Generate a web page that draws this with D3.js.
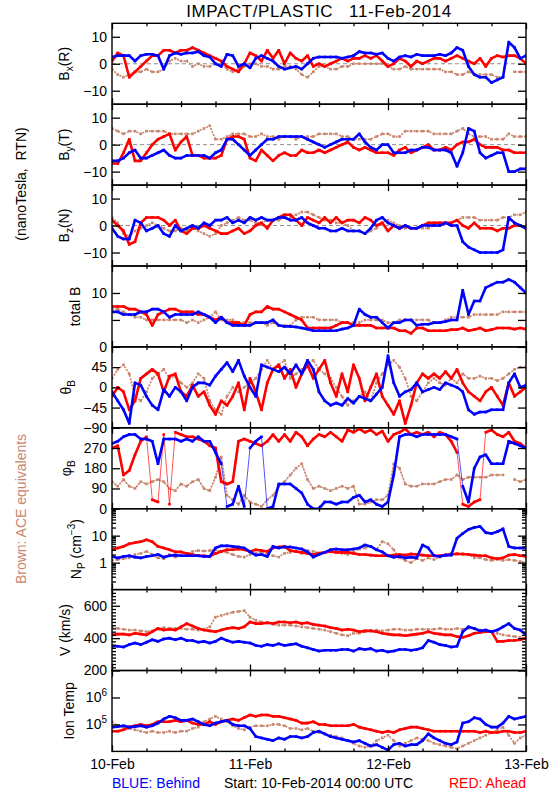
<!DOCTYPE html>
<html><head><meta charset="utf-8">
<script src="https://cdn.jsdelivr.net/npm/d3@7"></script>
<style>
body{margin:0;background:#fff}
svg{display:block;font-family:"Liberation Sans",Arial,sans-serif}
</style>
</head><body>
<svg id="c" width="550" height="800"></svg>
<script>
// ---------- time grid (hours since 10-Feb-2014 00:00 UTC) ----------
const hours = d3.range(0, 73);
const dayTicks = [0, 24, 48, 72];
const dayLabels = ["10-Feb", "11-Feb", "12-Feb", "13-Feb"];
const minorHourTicks = [6, 12, 18, 30, 36, 42, 54, 60, 66];

// ---------- Bx (R) ----------
const bxBlue = [2.5,3,3,3,1,3,3.5,3.5,3,-2, 3,4,3.5,4,4,4.5,3,2.5,0,-1, 3.5,3,-1,0,-1.5,2,3,2,1,-1, -2,-1.5,-1,-2,0,2,2.5,2.5,2.5,2.5, 2,2.5,3,4.5,4,4,3.5,4,2,1, 2.5,3,2.5,3.5,3,3,3,3.5,3,4, 6,5,-1,-4,-5,-5,-7,-6,-5,8, 6,2,3];
const bxRed = [1,4,3,-5,-3,-1,1,3,3,5, 5,4,5,5,6,5,4,3,2,1, -1,-2,-3,0,4,3,1,5,2,5, 0,4,2,1,3,-1,0,-1,0,1, 2,1,2,2,3,2,3,1,-1,0, 2,1,-1,1,0,1,2,2,1,2, 3,2,1,0,2,-1,2,3,2.5,3, 3,2,0];
const bxBrown = [-2,-4,-5,-4,-3,-3,-2,-3,-3,-2, 1,2,1,1,-1,0,-1,-1,0,0, -2,-3,-2,-1,0,0,-1,-1,-2,-2, -1,-1,-2,-4,-5,-3,-1,-1,-2,-2, -1,-1,0,0,0,0,0,0,-1,-2, -2,-1,-2,-2,-2,-2,-2,-2,-3,-3, -4,-4,-3,-4,-4,-4,-4,-5,-5,null, -3,-3,-3];

// ---------- By (T) ----------
const byBlue = [-6,-6,-5,-3,-2,-5,-5,-4,-3,-2, -4,-5,-5,-4,-4,-4,-4,-5,-3,-2, 2,2,0,-2,-4,-2,0,2,2,3, 3,3,3,3,2,1,0,-1,0,1, 2,2,2,4,1,-1,-2,0,0,-3, -3,-3,-2,-2,-1,-1,-2,-2,-2,-3, -8,-3,6,5,-3,-5,-4,-3,-3,-10, -10,-9,-9];
const byRed = [-7,-7,-3,2,-6,-6,-3,0,2,3, 4,-2,1,3,-4,-4,-5,-5,-5,-4, 2,3,3,2,-5,-6,-2,-4,-6,-4, -3,-4,-4,-2,-3,-3,-2,-3,-2,-1, 0,1,-1,-2,-1,-2,-3,-3,-3,-4, -2,-1,-3,-2,-1,0,-2,-2,-1,-2, 0,1,1,2,0,-1,-1,-1,-2,-2, -3,-3,-3];
const byBrown = [6,5,4,5,5,4,5,5,5,5, 4,4,4,4,4,5,6,7,2,2, 3,4,4,4,3,3,4,3,3,2, 3,3,2,3,3,3,4,4,4,4, 3,3,2,2,2,2,3,4,4,3, 3,5,5,5,5,5,4,4,4,4, 5,6,4,3,3,3,2,2,2,4, 3,3,3];

// ---------- Bz (N) ----------
const bzBlue = [-1,-4,-5,-5,2,1,-2,-1,0,-3, -4,0,-2,-1,0,-1,1,0,2,2, 3,1,2,1,3,2,3,2,2,3, 3,2,2,3,1,0,-1,-1,-2,-2, -1,-2,-2,-2,-3,-1,2,3,1,0, -1,0,-1,-1,0,0,0,0,1,0, 0,-6,-8,-9,-10,-10,-10,-10,-9,3, 1,0,-1];
const bzRed = [2,0,-2,-7,-6,1,3,3,3,2, 0,2,-2,-3,-1,-1,0,-1,-2,-3, -3,-2,-1,-3,-2,0,1,-1,2,3, 4,4,2,0,3,2,1,3,1,3, 1,2,2,1,3,2,0,1,-2,0, -1,0,-1,-1,0,1,1,1,1,1, 2,0,-1,1,-1,-1,-1,-2,-1,-1, 0,0,-1];
const bzBrown = [3,1,-3,-4,-2,-1,0,1,0,-1, -2,-2,-1,-2,-1,-2,-3,-4,-3,0, 1,2,3,2,2,1,1,2,2,2, 3,3,4,5,5,4,3,2,2,1, 1,0,-2,-2,-3,-2,-1,1,2,1, 0,-1,-1,-1,-1,-1,0,0,1,1, 2,3,3,3,2,2,2,2,3,3, 4,4,5];

// ---------- total B ----------
const btBlue = [6.5,6.5,6,6,6,6.5,6.5,7,7,6.5, 5.5,6,6,6,6,6.5,6,5.5,4.5,5.5, 4.5,4,4,4,4,4.5,4.5,4.5,5,4, 3.8,3.8,3.7,3.5,3.3,3,3,3,3,3, 3.3,3.5,4,7,6,5.5,5.5,4.5,3.5,4.5, 4.5,5,5,4,4.2,4.2,4.5,4.5,4.7,5, 5,10.5,6,8.5,8.5,11,11.5,12,12,12.5, 12,11,10];
const btRed = [7.5,7.5,7.5,7,7,6.5,6,4,6,6.5, 7,7,6.5,6.5,6.5,6,6,5.5,5,5.5, 4.5,4.5,4.5,4,6,6.5,6.5,7.5,7,7, 6.5,6,5.5,5,3.5,3.5,3.5,3.5,3.5,4, 4.5,4.5,4,4,4,4,3.5,3.5,3.5,3.5, 3,3,2.5,3.5,3.5,3,3,3,3,3.2, 3.2,3.5,3,3.2,3.5,3,3.2,3.5,3.5,3.5, 3.3,3.5,3.3];
const btBrown = [7,7,6.5,6,5.5,5.5,5,5,5,5, 5,5,5,4.5,5,4.5,5,5.5,6.5,5, 5,5,4.5,4.5,4.5,4.5,4.5,4,4.5,4, 4,4,5,5.5,5.5,5.5,5,5,5,5, 4.5,4.5,4.5,4.5,5,5,5,5,4.5,4.5, 5,5,5,5,5,5,4.5,4.5,5,5.5, 5.5,5.5,5.5,6,6,6,6,6,6.5,6.5, 6.5,6.5,6.5];

// ---------- theta_B ----------
const thBlue = [-10,-30,-50,-80,10,5,-20,-40,-50,-5, -20,0,-10,-30,0,10,10,5,25,40, 55,35,60,25,0,-20,50,45,40,35, 45,30,50,30,60,40,-10,-30,-40,-35, -40,-25,-35,-20,-25,-30,-15,0,70,10, -20,-10,-5,10,-10,-5,0,-5,10,5, 0,-10,-50,-60,-55,-55,-50,-50,-50,10, 30,0,5];
const thRed = [-20,0,-10,-50,-30,20,30,40,30,-10, 25,30,-10,-20,5,-20,-10,-40,-60,-30, -40,-20,10,-50,20,-10,-50,10,40,50, 20,40,0,30,50,20,40,60,10,-20, 30,-10,50,20,-30,0,30,-20,-40,-60, -30,-80,-40,10,30,20,30,20,35,20, 40,10,-10,-20,-30,-10,0,-20,-40,10, -20,-10,0];
const thBrown = [20,40,50,30,-20,-30,-10,20,30,40, 20,25,10,0,10,30,20,-30,-50,-60, -20,0,-10,0,10,20,40,60,40,50, 60,20,30,40,50,60,40,30,20,0, -20,-40,-30,-20,-10,-30,10,30,50,60, 45,20,-20,-30,-10,10,20,10,5,20, 10,30,20,20,25,20,20,15,20,30, 40,45,45];

// ---------- phi_B ----------
const phBlue = [290,300,320,330,330,310,310,300,200,310, 310,310,300,310,300,320,300,300,250,200, 10,20,100,10,270,300,320,0,10,110, 110,110,90,70,20,0,0,30,30,20, 30,30,50,60,30,40,20,10,30,150, 320,330,330,320,330,330,330,330,330,320, 310,100,30,180,230,240,200,200,200,300, 290,280,270];
const phRed = [270,280,150,170,240,300,320,40,30,330, 20,340,330,320,320,310,300,280,270,120, 110,120,300,310,300,290,280,300,330,300, 330,300,340,320,280,310,330,320,340,320, 300,350,340,355,340,350,330,345,300,330, 340,355,330,340,330,340,320,340,330,300, 250,20,10,30,40,340,350,330,320,340, 300,290,270];
const phBrown = [120,100,130,100,90,120,110,120,130,120, 90,80,110,100,120,130,90,80,140,230, 60,40,20,60,30,20,10,40,60,100, 120,150,180,200,130,90,100,90,80,90, 100,90,100,20,20,30,40,40,60,200, 180,110,100,100,110,110,110,120,130,130, 150,130,140,140,140,140,150,150,150,null, 130,120,130];

// ---------- Np (cm^-3) ----------
const npBlue = [1.7,1.5,1.7,1.8,1.6,1.5,1.7,1.8,2.0,1.6, 1.8,1.9,1.8,1.8,1.8,1.8,1.7,1.7,3.5,4.2, 4.2,4,3.8,3.5,2.5,1.9,2.0,1.7,4,3.5, 3.8,3.8,3.5,3.2,2.5,1.6,2.0,2.4,3,3.2, 3,3,3.2,3.5,4.5,4,3,2.5,1.8,1.6, 1.7,1.5,1.6,1.5,4.5,3.5,1.8,1.7,1.9,1.9, 8,12,17,20,22,13,12,14,18,4, 3.5,3.5,3.5];
const npRed = [3,3.5,4,5,5.5,6,7,6,4,3.5, 3,2.5,2.5,2.2,2,1.8,1.8,1.7,2.2,2.6, 3,3,3.2,3,2.6,3,2.8,2.6,3.5,3.8, 4,2.8,2.6,2.4,2.2,2.0,2.2,2.4,2.6,2.4, 2.4,2.4,2.2,2.0,2.0,1.9,1.8,1.8,1.8,1.9, 2.0,1.9,2.1,2.0,1.9,1.8,1.8,1.8,1.9,2.0, 2.1,2.1,2.0,1.9,1.8,1.8,1.5,1.4,1.5,1.9, 2.0,1.8,1.7];
const npBrown = [1.2,1.3,1.4,1.5,2,2.2,2.6,2.0,1.5,1.4, 2,1.6,1.8,2,2.6,2.8,2.7,2.8,3,2.6, 2.4,2.0,1.7,1.6,2.0,2.2,2.5,2.0,1.8,1.6, 2.2,2.4,2.6,2.2,2.8,2.6,2.3,2.4,2.5,2.6, 2.2,2.0,2.6,3.2,3.5,4,3,6,5,3, 1.5,1.2,1.0,1.4,1.2,1.5,1.3,1.6,2,2.2, 2.2,2.0,2.0,1.5,1.5,1.3,1.2,1.3,1.2,1.3, 1.2,1.1,1.0];

// ---------- V (km/s) ----------
const vBlue = [350,350,345,360,370,360,375,390,380,395, 400,390,400,385,385,375,380,370,380,400, 385,375,380,375,370,355,350,360,355,365, 355,360,365,350,340,330,320,325,325,325, 330,330,320,335,330,335,320,325,315,320, 330,330,325,330,340,385,375,360,355,345, 350,440,470,460,445,450,440,450,470,490, 460,450,420];
const vRed = [420,425,425,420,430,425,420,440,460,450, 455,450,470,490,475,460,450,445,440,450, 460,465,460,470,500,490,490,495,490,500, 500,495,500,490,495,485,480,475,465,460, 450,455,450,440,445,445,440,430,425,420, 420,415,420,425,430,440,430,425,420,420, 410,405,415,430,435,440,440,380,380,385, 385,390,400];
const vBrown = [470,460,455,450,450,445,440,445,455,465, 460,460,460,455,455,450,455,470,530,540, 550,560,565,570,530,510,500,495,485,480, 480,480,475,470,465,460,455,450,440,430, 420,415,430,430,440,445,450,445,450,455, 455,450,450,455,455,455,455,460,455,455, 460,455,460,460,450,440,440,430,420,415, 410,405,400];

// ---------- Ion Temp (log10 K) ----------
const tBlueLog = [4.9,4.92,4.95,4.9,4.92,4.95,4.9,4.95,5.05,5.2, 5.3,5.25,5.15,5.15,5.2,5.1,5.0,4.95,5.05,5.1, 5.15,5.0,4.95,4.95,4.85,4.55,4.5,4.45,4.4,4.5, 4.45,4.55,4.55,4.5,4.55,4.7,4.75,4.65,4.55,4.5, 4.45,4.4,4.35,4.4,4.3,4.2,4.25,4.15,4.05,4.25, 4.3,4.2,4.25,4.25,4.4,4.65,4.5,4.4,4.3,4.25, 4.35,5.05,5.1,5.25,5.2,5.0,4.9,4.9,5.05,5.3, 5.2,5.25,5.3];
const tRedLog = [4.75,4.75,4.8,4.9,4.95,5.0,4.95,5.0,5.1,5.1, 5.1,5.15,5.1,5.15,5.05,5.0,5.0,5.1,5.0,5.1, 5.15,5.2,5.15,5.25,5.35,5.3,5.35,5.35,5.3,5.3, 5.25,5.2,5.15,5.05,5.05,5.1,5.0,5.0,4.95,4.95, 4.95,4.95,5.0,4.9,4.85,4.8,4.75,4.7,4.75,4.7, 4.8,4.85,4.9,4.9,4.85,4.8,4.75,4.75,4.75,4.75, 4.75,4.75,4.75,4.75,4.7,4.75,4.7,4.7,4.75,4.75, 4.7,4.7,4.75];
const tBrownLog = [5.1,4.95,4.9,4.85,4.8,4.75,4.7,4.75,4.7,4.7, 4.75,4.7,4.75,4.75,4.85,4.9,5.1,5.2,5.3,5.2, 5.1,4.95,4.85,4.8,4.9,4.95,4.95,4.95,5.0,5.0, 4.95,4.85,4.85,4.8,4.85,4.75,4.7,4.65,4.6,4.55, 4.5,4.4,4.3,4.2,4.15,4.2,4.4,4.5,4.6,4.4, 4.2,4.3,4.4,4.5,4.45,4.4,4.3,4.25,4.2,4.15, 4.1,4.2,4.3,4.4,4.5,4.6,4.7,4.8,4.9,4.6, 4.3,4.5,4.6];
const toK = a => a.map(v => v == null ? null : Math.pow(10, v));

// ---------- layout ----------
const L = 112, R = 526, TOP = 23.3, PH = 80.9;
const COL = {blue: "#0000ff", red: "#ff0000", brown: "#c8866e"};
const FS = 14;
const svg = d3.select("#c");
const defs = svg.append("defs");
const x = d3.scaleLinear().domain([0, 72]).range([L, R]);

const minus = s => String(s).replace("-", "\u2212");

const panels = [
  {label: [["B"], ["x", "sub"], ["(R)"]], lx: 69, domain: [-15, 15], zero: true,
   major: [-10, 0, 10], labeled: [-10, 0, 10], blue: bxBlue, red: bxRed, brown: bxBrown},
  {label: [["B"], ["y", "sub"], ["(T)"]], lx: 69, domain: [-15, 15], zero: true,
   major: [-10, 0, 10], labeled: [-10, 0, 10], blue: byBlue, red: byRed, brown: byBrown},
  {label: [["B"], ["z", "sub"], ["(N)"]], lx: 69, domain: [-15, 15], zero: true,
   major: [-10, 0, 10], labeled: [-10, 0, 10], blue: bzBlue, red: bzRed, brown: bzBrown},
  {label: [["total B"]], lx: 80, domain: [0, 15],
   major: [0, 5, 10], labeled: [0, 10], blue: btBlue, red: btRed, brown: btBrown},
  {label: [["\u03b8"], ["B", "sub"]], lx: 71, domain: [-90, 90],
   major: [-90, -45, 0, 45], labeled: [-90, -45, 0, 45], blue: thBlue, red: thRed, brown: thBrown},
  {label: [["\u03c6"], ["B", "sub"]], lx: 71, domain: [0, 360], wrap: true,
   major: [0, 90, 180, 270], labeled: [0, 90, 180, 270], blue: phBlue, red: phRed, brown: phBrown},
  {label: [["N"], ["P", "sub"], [" (cm"], ["\u22123", "sup"], [")"]], lx: 81, domain: [0.1, 100], log: true,
   major: [1, 10], labeled: [1, 10],
   minor: [0.2,0.3,0.4,0.5,0.6,0.7,0.8,0.9,2,3,4,5,6,7,8,9,20,30,40,50,60,70,80,90],
   blue: npBlue, red: npRed, brown: npBrown},
  {label: [["V (km/s)"]], lx: 70, domain: [200, 700],
   major: [200, 400, 600], labeled: [200, 400, 600],
   minor: [220,240,260,280,300,320,340,360,380,420,440,460,480,500,520,540,560,580,620,640,660,680],
   blue: vBlue, red: vRed, brown: vBrown},
  {label: [["Ion Temp"]], lx: 74, domain: [1e4, 1e7], log: true,
   major: [1e5, 1e6], labeled: [1e5, 1e6], sup: true,
   blue: toK(tBlueLog), red: toK(tRedLog), brown: toK(tBrownLog)}
];

function addRich(textSel, parts) {
  let shift = 0;
  parts.forEach(([s, kind]) => {
    const t = textSel.append("tspan").text(s);
    let target = 0;
    if (kind === "sub") { t.attr("font-size", 10); target = 4; }
    else if (kind === "sup") { t.attr("font-size", 10); target = -6; }
    const dy = target - shift;
    if (dy !== 0) t.attr("dy", dy);
    shift = target;
  });
}

// pair each value with its hour; for angles, break the thick trace where it wraps past 0/360
function toPoints(vals, wrap) {
  const pts = [];
  hours.forEach((h, k) => {
    const v = vals[k];
    if (wrap && k > 0 && v != null && vals[k - 1] != null && Math.abs(v - vals[k - 1]) > 180) {
      pts.push([h - 0.5, null]);
    }
    pts.push([h, v == null ? null : v]);
  });
  return pts;
}

panels.forEach((p, i) => {
  const y0 = TOP + i * PH, y1 = y0 + PH;
  const y = (p.log ? d3.scaleLog() : d3.scaleLinear()).domain(p.domain).range([y1, y0]);
  const g = svg.append("g");
  const cid = "clip" + i;
  defs.append("clipPath").attr("id", cid).append("rect")
    .attr("x", L).attr("y", y0).attr("width", R - L).attr("height", PH);
  const dg = g.append("g").attr("clip-path", `url(#${cid})`);

  if (p.zero) {
    dg.append("line").attr("x1", L).attr("x2", R).attr("y1", y(0)).attr("y2", y(0))
      .attr("stroke", "#8c8c8c").attr("stroke-width", 1).attr("stroke-dasharray", "4,3");
  }
  const line = d3.line().defined(d => d[1] != null).x(d => x(d[0])).y(d => y(d[1]));
  [["brown", p.brown], ["red", p.red], ["blue", p.blue]].forEach(([c, vals]) => {
    if (p.wrap) {
      // thin streaks across the wrap, like the scattered samples in the original
      dg.append("path").datum(toPoints(vals, false))
        .attr("d", line).attr("fill", "none").attr("stroke", COL[c])
        .attr("stroke-width", 0.8).attr("opacity", c === "brown" ? 0.6 : 0.85);
    }
    const pts = toPoints(vals, p.wrap);
    const path = dg.append("path").datum(pts)
      .attr("d", line).attr("fill", "none").attr("stroke", COL[c])
      .attr("stroke-width", c === "brown" ? 1.7 : 2.6)
      .attr("stroke-linejoin", "round");
    if (c === "brown") path.attr("stroke-dasharray", "2,1.3");
    dg.append("g").selectAll("rect").data(pts.filter(d => d[1] != null)).join("rect")
      .attr("x", d => x(d[0]) - 1.3).attr("y", d => y(d[1]) - 1.3)
      .attr("width", 2.6).attr("height", 2.6).attr("fill", COL[c]);
  });

  // frame
  g.append("rect").attr("x", L).attr("y", y0).attr("width", R - L).attr("height", PH)
    .attr("fill", "none").attr("stroke", "#000").attr("stroke-width", 1.4);

  // y axes (ticks inward)
  const ya = g.append("g").attr("transform", `translate(${L},0)`)
    .call(d3.axisLeft(y).tickValues(p.major).tickSize(-8).tickPadding(5)
      .tickFormat(v => p.labeled.includes(v) ? (p.sup ? "" : minus(v)) : ""));
  g.append("g").attr("transform", `translate(${R},0)`)
    .call(d3.axisRight(y).tickValues(p.major).tickSize(-8).tickFormat(""));
  if (p.minor) {
    g.append("g").attr("transform", `translate(${L},0)`)
      .call(d3.axisLeft(y).tickValues(p.minor).tickSize(-4).tickFormat(""));
    g.append("g").attr("transform", `translate(${R},0)`)
      .call(d3.axisRight(y).tickValues(p.minor).tickSize(-4).tickFormat(""));
  }
  if (p.sup) {
    ya.selectAll(".tick text").each(function (v) {
      const t = d3.select(this);
      addRich(t, [["10"], [String(Math.round(Math.log10(v))), "sup"]]);
    });
  }
  // x ticks top & bottom
  g.append("g").attr("transform", `translate(0,${y1})`)
    .call(d3.axisBottom(x).tickValues(dayTicks).tickSize(-6).tickFormat(""));
  g.append("g").attr("transform", `translate(0,${y1})`)
    .call(d3.axisBottom(x).tickValues(minorHourTicks).tickSize(-3).tickFormat(""));
  g.append("g").attr("transform", `translate(0,${y0})`)
    .call(d3.axisTop(x).tickValues(dayTicks).tickSize(-6).tickFormat(""));
  g.append("g").attr("transform", `translate(0,${y0})`)
    .call(d3.axisTop(x).tickValues(minorHourTicks).tickSize(-3).tickFormat(""));

  if (i === panels.length - 1) {
    g.append("g").attr("transform", `translate(0,${y1})`)
      .call(d3.axisBottom(x).tickValues(dayTicks).tickSize(0).tickPadding(7.7)
        .tickFormat((d, k) => dayLabels[k]))
      .call(a => a.select(".domain").remove());
  }

  // y label
  const t = g.append("text")
    .attr("transform", `translate(${p.lx},${(y0 + y1) / 2}) rotate(-90)`)
    .attr("text-anchor", "middle").attr("font-size", FS).attr("fill", "#000");
  addRich(t, p.label);
});

svg.selectAll(".domain").remove();
svg.selectAll(".tick line").attr("stroke", "#000").attr("stroke-width", 1.3);
svg.selectAll(".tick text").attr("font-size", FS).attr("fill", "#000")
  .attr("font-family", "'Liberation Sans', Arial, sans-serif");

// title
svg.append("text").attr("x", (L + R) / 2).attr("y", 17).attr("text-anchor", "middle")
  .attr("font-size", 17).attr("letter-spacing", 0.6).style("white-space", "pre")
  .text("IMPACT/PLASTIC   11-Feb-2014");

// side labels
svg.append("text").attr("transform", "translate(26,184) rotate(-90)")
  .attr("text-anchor", "middle").attr("font-size", FS).style("white-space", "pre")
  .text("(nanoTesla,  RTN)");
svg.append("text").attr("transform", "translate(26,509) rotate(-90)")
  .attr("text-anchor", "middle").attr("font-size", FS).attr("fill", COL.brown)
  .text("Brown: ACE equivalents");

// footer
svg.append("text").attr("x", L).attr("y", 788).attr("font-size", FS).attr("fill", COL.blue)
  .text("BLUE: Behind");
svg.append("text").attr("x", 318.5).attr("y", 788).attr("font-size", FS).attr("text-anchor", "middle")
  .text("Start: 10-Feb-2014 00:00 UTC");
svg.append("text").attr("x", R).attr("y", 788).attr("font-size", FS).attr("fill", COL.red)
  .attr("text-anchor", "end").text("RED: Ahead");
</script>
</body></html>
